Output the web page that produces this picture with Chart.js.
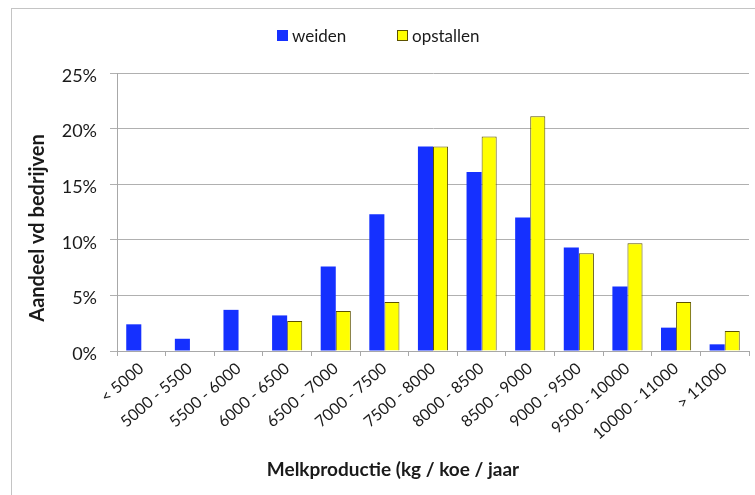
<!DOCTYPE html>
<html>
<head>
<meta charset="utf-8">
<script src="https://cdn.jsdelivr.net/npm/chart.js@4/dist/chart.umd.min.js"></script>
<style>
    body { margin: 0; background: #ffffff; overflow: hidden; }
    #wrap { position: relative; width: 755px; height: 495px; }
    #frame { position: absolute; left: 11px; top: 8px; width: 800px; height: 600px; border: 1px solid #c4c4c4; }
    #myChart { position: absolute; left: 0; top: 0; }
</style>
</head>
<body>
<div id="wrap">
    <div id="frame"></div>
    <canvas id="myChart" width="755" height="495"></canvas>
</div>
<script>
const categories = [
    '< 5000', '5000 - 5500', '5500 - 6000', '6000 - 6500',
    '6500 - 7000', '7000 - 7500', '7500 - 8000', '8000 - 8500',
    '8500 - 9000', '9000 - 9500', '9500 - 10000', '10000 - 11000', '> 11000'
]
const weiden = [2.4, 1.1, 3.7, 3.2, 7.6, 12.3, 18.4, 16.1, 12.0, 9.3, 5.8, 2.1, 0.6]
const opstallen = [0, 0, 0, 2.7, 3.6, 4.4, 18.4, 19.3, 21.1, 8.8, 9.7, 4.4, 1.8]
const yTicks = [0, 5, 10, 15, 20, 25]

const xTitle = 'Melkproductie (kg / koe / jaar'
const yTitle = 'Aandeel vd bedrijven'

const fontFam = 'Lato, "Open Sans", sans-serif'

// axis titles + legend drawn by hand so they sit where the original puts them
const extras = {
    id: 'extras',
    afterDraw(chart) {
        const ctx = chart.ctx
        ctx.save()
        ctx.fillStyle = '#1a1a1a'
        ctx.textAlign = 'center'
        ctx.textBaseline = 'middle'
        ctx.font = 'bold 19px ' + fontFam
        ctx.fillText(xTitle, 393, 470)
        ctx.save()
        ctx.translate(38, 228)
        ctx.rotate(-Math.PI / 2)
        ctx.font = 'bold 20px ' + fontFam
        ctx.fillText(yTitle, 0, 0)
        ctx.restore()

        // legend
        const legendX = [277, 397]
        ctx.font = '17px ' + fontFam
        ctx.textAlign = 'left'
        chart.data.datasets.forEach((ds, i) => {
            const x = legendX[i]
            ctx.fillStyle = ds.backgroundColor
            ctx.fillRect(x, 30, 11, 11)
            if (ds.borderWidth) {
                ctx.strokeStyle = ds.borderColor
                ctx.lineWidth = 1
                ctx.strokeRect(x + 0.5, 30.5, 10, 10)
            }
            ctx.fillStyle = '#1a1a1a'
            ctx.fillText(ds.label, x + 15, 37)
        })
        ctx.restore()
    }
}

const ctx = myChart.getContext('2d')
chart = new Chart(ctx, {
    type: 'bar',
    data: {
        labels: categories,
        datasets: [{
            label: 'weiden',
            data: weiden,
            backgroundColor: '#1530ff',
            borderColor: '#1530ff',
            borderWidth: 0,
        }, {
            label: 'opstallen',
            data: opstallen,
            backgroundColor: '#ffff00',
            borderColor: '#5c5200',
            borderWidth: 1,
        }]
    },
    plugins: [extras],
    options: {
        responsive: false,
        animation: false,
        devicePixelRatio: 1,
        datasets: {
            bar: {
                categoryPercentage: 0.62,
                barPercentage: 1.0,
            }
        },
        layout: {
            padding: { top: 73, right: 6, left: 0, bottom: 0 }
        },
        plugins: {
            legend: { display: false },
            tooltip: { enabled: false }
        },
        scales: {
            x: {
                afterFit: function (scale) { scale.height = 144 },
                grid: {
                    display: true,
                    offset: true,
                    drawOnChartArea: false,
                    color: '#a8a8a8',
                    tickLength: 5,
                },
                border: { color: '#a8a8a8' },
                ticks: {
                    color: '#1a1a1a',
                    minRotation: 41,
                    maxRotation: 41,
                    autoSkip: false,
                    padding: 3,
                    font: { family: fontFam, size: 16 }
                }
            },
            y: {
                min: 0,
                max: 25,
                afterFit: function (scale) { scale.width = 117 },
                afterBuildTicks: function (scale) {
                    scale.ticks = yTicks.map(v => ({ value: v }))
                },
                grid: {
                    color: '#b0b0b0',
                    tickLength: 7,
                },
                border: { color: '#a8a8a8' },
                ticks: {
                    color: '#1a1a1a',
                    padding: 13,
                    labelOffset: 3,
                    font: { family: fontFam, size: 18 },
                    callback: function (value) { return value + '%' }
                }
            }
        }
    }
})
</script>
</body>
</html>
